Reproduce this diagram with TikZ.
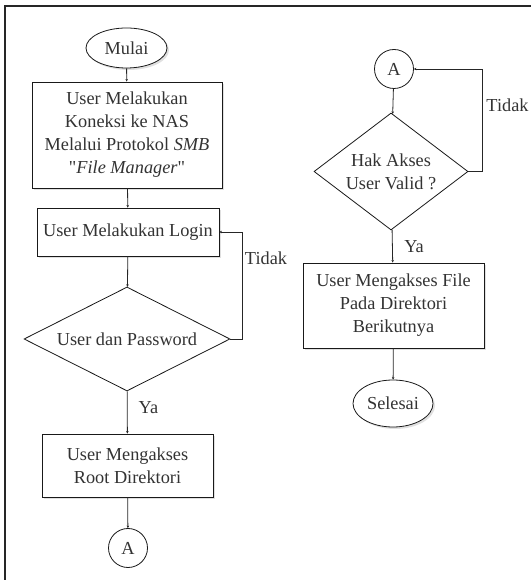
\documentclass[tikz,border=0pt]{standalone}
\usepackage{fontspec}
\setmainfont{Liberation Serif}[Ligatures=TeXOff]
\usetikzlibrary{positioning}
\usetikzlibrary{shapes.geometric}
\usetikzlibrary{arrows.meta}
\usetikzlibrary{shadows}

\begin{document}
\begin{tikzpicture}[x=1pt,y=1pt,
  every node/.style={font=\fontsize{18.3}{23}\selectfont, text=black!80},
  bayang/.style={drop shadow={shadow xshift=2pt, shadow yshift=-2pt, fill=black!12, opacity=1}},
  kotak/.style={rectangle, draw=black!90, line width=0.9pt, fill=white, align=center, inner sep=0pt, bayang},
  terminal/.style={ellipse, draw=black!90, line width=0.8pt, fill=white, inner sep=0pt, bayang},
  keputusan/.style={diamond, draw=black!90, line width=0.8pt, fill=white, align=center, inner sep=0pt},
  konektor/.style={circle, draw=black!90, line width=0.8pt, fill=white, inner sep=0pt, minimum size=39pt},
  garis/.style={draw=black!85, line width=0.8pt, -{Stealth[length=2.5pt,width=2.5pt]}}]

\useasboundingbox (0,0) rectangle (531,580);

% bingkai
\draw[black!85, line width=1.5pt] (5,0) -- (5,574) -- (531,574);

% kolom kiri
\begin{scope}{
\node (mulai) at (126.5,532) [terminal, minimum width=81pt, minimum height=40pt] {Mulai};
\node (koneksi) at (127,445) [kotak, minimum width=190pt, minimum height=106pt] {User Melakukan\\Koneksi ke NAS\\Melalui Protokol \textit{SMB}\\"\textit{File Manager}"};
\node (login) at (128,348) [kotak, minimum width=182pt, minimum height=48pt] {User Melakukan Login};
\node (cekuser) at (127,241) [keputusan, aspect=2, minimum width=206pt, minimum height=104pt] {User dan Password};
\node (root) at (127.5,114.5) [kotak, minimum width=171pt, minimum height=63pt] {User Mengakses\\Root Direktori};
\node (konA) at (128,32) [konektor] {A};

\draw[garis] (mulai) -- (koneksi);
\draw[garis] (koneksi) -- (login);
\draw[garis] (login) -- (cekuser);
\draw[garis] (cekuser) -- (root);
\draw[garis] (root) -- (konA);
\draw[garis] (cekuser.east) -- ++(12,0) |- (login.east);

\node (tidakkiri) at (266,322) {Tidak};
\node (yakiri) at (148.5,172) {Ya};
} \end{scope}

% kolom kanan
\begin{scope}{
\node (konA2) at (394,511) [konektor] {A};
\node (hakakses) at (391,408.5) [keputusan, aspect=1.3, minimum width=154pt, minimum height=117pt] {Hak Akses\\User Valid ?};
\node (aksesfile) at (393.5,274.5) [kotak, minimum width=181pt, minimum height=85pt] {User Mengakses File\\Pada Direktori\\Berikutnya};
\node (selesai) at (393,176.5) [terminal, minimum width=80pt, minimum height=47pt] {Selesai};

\draw[garis] (konA2) -- (hakakses);
\draw[garis] (hakakses) -- (aksesfile);
\draw[garis] (aksesfile) -- (selesai);
\draw[garis] (hakakses.east) -- ++(14,0) |- (konA2.east);

\node (tidakkanan) at (507.5,475) {Tidak};
\node (yakanan) at (414,333) {Ya};
} \end{scope}

\end{tikzpicture}
\end{document}
